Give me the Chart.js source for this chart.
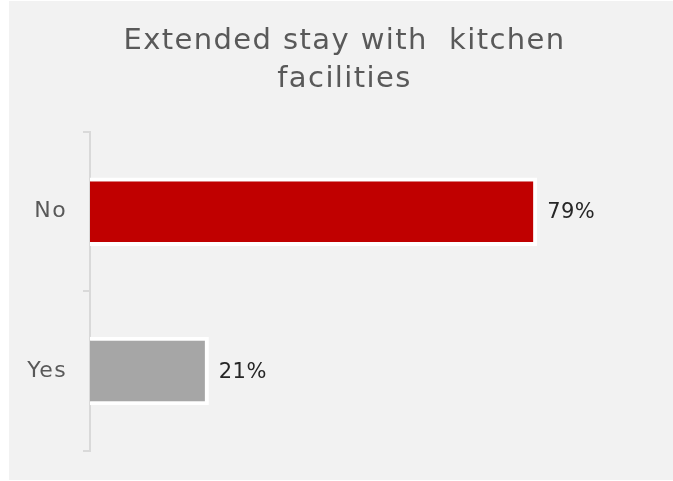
<!DOCTYPE html>
<html>
<head>
<meta charset="utf-8">
<script src="https://cdn.jsdelivr.net/npm/chart.js@4"></script>
<style>
  html, body { margin: 0; padding: 0; background: #ffffff; }
  #wrap { position: absolute; left: 9px; top: 1px; width: 664px; height: 479px; background: #f2f2f2; }
  canvas { display: block; }
</style>
</head>
<body>
<div id="wrap"><canvas id="c" width="664" height="479"></canvas></div>
<script>
const categories = ['No', 'Yes'];
const values = [79, 21];
const barColors = ['#C00000', '#A6A6A6'];
const titleLines = ['Extended stay with  kitchen', 'facilities'];
const FONT = "'DejaVu Sans', 'Open Sans', sans-serif";

const spacing = {
  id: 'spacing',
  beforeDraw(chart) {
    if ('letterSpacing' in chart.ctx) chart.ctx.letterSpacing = '1.4px';
  }
};

const valueLabels = {
  id: 'valueLabels',
  afterDatasetsDraw(chart) {
    const ctx = chart.ctx;
    const meta = chart.getDatasetMeta(0);
    ctx.save();
    if ('letterSpacing' in ctx) ctx.letterSpacing = '0.4px';
    ctx.font = '21px ' + FONT;
    ctx.fillStyle = '#262626';
    ctx.textAlign = 'left';
    ctx.textBaseline = 'middle';
    meta.data.forEach((bar, i) => {
      ctx.fillText(values[i] + '%', bar.x + 10, bar.y + 1);
    });
    ctx.restore();
  }
};

new Chart(document.getElementById('c'), {
  type: 'bar',
  data: {
    labels: categories,
    datasets: [{
      data: values,
      backgroundColor: barColors,
      borderColor: '#ffffff',
      borderWidth: 4,
      borderSkipped: 'start',
      barPercentage: 0.43,
      categoryPercentage: 1.0
    }]
  },
  options: {
    indexAxis: 'y',
    responsive: false,
    animation: false,
    devicePixelRatio: 1,
    layout: { padding: { left: 7, right: 0, top: 0, bottom: 29 } },
    plugins: {
      legend: { display: false },
      tooltip: { enabled: false },
      title: {
        display: true,
        text: titleLines,
        color: '#595959',
        font: { family: FONT, size: 29, weight: 'normal', lineHeight: 38 / 29 },
        padding: { top: 21, bottom: 34 }
      }
    },
    scales: {
      x: {
        display: false,
        min: 0,
        max: 103
      },
      y: {
        afterFit(scale) { scale.width = 74; },
        border: { display: true, color: '#d9d9d9', width: 2 },
        grid: {
          offset: true,
          drawOnChartArea: false,
          drawTicks: true,
          tickLength: 7,
          color: '#d9d9d9',
          lineWidth: 2
        },
        ticks: {
          color: '#595959',
          padding: 16,
          font: { family: FONT, size: 22 }
        }
      }
    }
  },
  plugins: [spacing, valueLabels]
});
</script>
</body>
</html>
